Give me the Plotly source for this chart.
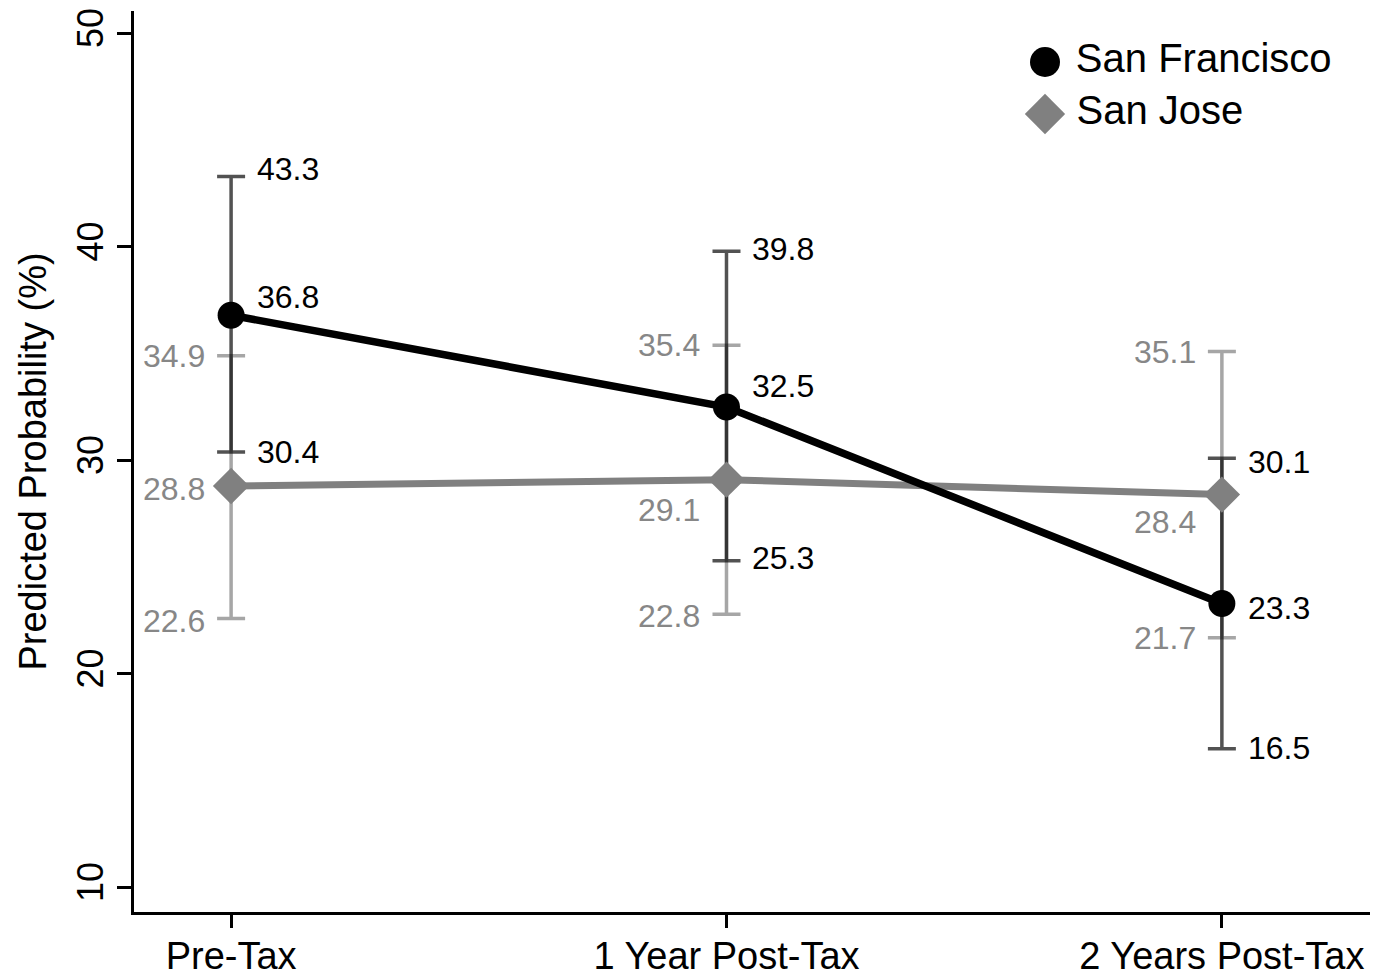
import plotly.graph_objects as go

# Periods on the x axis
periods = ["Pre-Tax", "1 Year Post-Tax", "2 Years Post-Tax"]

# Predicted probabilities (%) with 95% confidence bounds
sf_est = [36.8, 32.5, 23.3]
sf_low = [30.4, 25.3, 16.5]
sf_high = [43.3, 39.8, 30.1]

sj_est = [28.8, 29.1, 28.4]
sj_low = [22.6, 22.8, 21.7]
sj_high = [34.9, 35.4, 35.1]

# Vertical nudges (px) for value labels so they do not collide
sf_est_shift = [18, 21, -5]
sf_high_shift = [7, 2, -4]
sf_low_shift = [0, 3, 1]
sj_est_shift = [-3, -30, -27]
sj_high_shift = [0, 0, 0]
sj_low_shift = [-3, -2, 0]

FONT = "Liberation Sans, Arial, Helvetica, sans-serif"
SF_COLOR = "#000000"
SJ_COLOR = "#808080"
SJ_TEXT = "#878787"

x = list(range(len(periods)))

fig = go.Figure()

# Confidence intervals (San Jose underneath, San Francisco above)
fig.add_trace(go.Scatter(
    x=x, y=sj_est, mode="markers", showlegend=False, hoverinfo="skip",
    marker=dict(size=1, opacity=0),
    error_y=dict(type="data", symmetric=False,
                 array=[h - e for h, e in zip(sj_high, sj_est)],
                 arrayminus=[e - l for e, l in zip(sj_est, sj_low)],
                 color="rgba(128,128,128,0.7)", thickness=3.5, width=14),
))
fig.add_trace(go.Scatter(
    x=x, y=sf_est, mode="markers", showlegend=False, hoverinfo="skip",
    marker=dict(size=1, opacity=0),
    error_y=dict(type="data", symmetric=False,
                 array=[h - e for h, e in zip(sf_high, sf_est)],
                 arrayminus=[e - l for e, l in zip(sf_est, sf_low)],
                 color="rgba(0,0,0,0.68)", thickness=3.5, width=14),
))

# Point estimates
fig.add_trace(go.Scatter(
    x=x, y=sj_est, mode="lines+markers", name="San Jose", showlegend=False,
    line=dict(color=SJ_COLOR, width=7),
    marker=dict(symbol="diamond", size=28, color=SJ_COLOR, opacity=1,
                line=dict(width=0)),
))
fig.add_trace(go.Scatter(
    x=x, y=sf_est, mode="lines+markers", name="San Francisco", showlegend=False,
    line=dict(color=SF_COLOR, width=7.5),
    marker=dict(symbol="circle", size=27, color=SF_COLOR, opacity=1,
                line=dict(width=0)),
))

# Value labels
def add_labels(vals, shifts, color, side):
    for xi, v, s in zip(x, vals, shifts):
        fig.add_annotation(
            x=xi, y=v, text=f"{v:.1f}", showarrow=False,
            xanchor="left" if side == "right" else "right",
            xshift=24 if side == "right" else -24, yshift=s,
            font=dict(family=FONT, size=32, color=color),
        )

add_labels(sf_high, sf_high_shift, SF_COLOR, "right")
add_labels(sf_est, sf_est_shift, SF_COLOR, "right")
add_labels(sf_low, sf_low_shift, SF_COLOR, "right")
add_labels(sj_high, sj_high_shift, SJ_TEXT, "left")
add_labels(sj_est, sj_est_shift, SJ_TEXT, "left")
add_labels(sj_low, sj_low_shift, SJ_TEXT, "left")

# Legend key drawn on an overlay axis measured in pixels
fig.add_trace(go.Scatter(
    x=[1045, 1045], y=[62, 114], xaxis="x2", yaxis="y2",
    mode="markers+text", showlegend=False, hoverinfo="skip",
    text=[" San Francisco", " San Jose"], textposition="middle right",
    textfont=dict(family=FONT, size=40, color="#000000"),
    marker=dict(symbol=["circle", "diamond"], size=[30, 31], opacity=1,
                color=[SF_COLOR, SJ_COLOR], line=dict(width=0)),
))

fig.update_layout(
    width=1389, height=976,
    margin=dict(l=134, r=19, t=11, b=64),
    paper_bgcolor="white", plot_bgcolor="white",
    font=dict(family=FONT, color="#000000"),
    xaxis=dict(
        range=[-0.196, 2.299], tickmode="array", tickvals=x, ticktext=periods,
        showgrid=False, zeroline=False, showline=True, linecolor="black",
        linewidth=3, ticks="outside", ticklen=13, tickwidth=2.5,
        tickcolor="black", tickfont=dict(family=FONT, size=38),
        ticklabelstandoff=-5, automargin=False,
    ),
    yaxis=dict(
        range=[8.85, 51.05], tickvals=[10, 20, 30, 40, 50],
        showgrid=False, zeroline=False, showline=True, linecolor="black",
        linewidth=3, ticks="outside", ticklen=14, tickwidth=2.5,
        tickcolor="black", tickangle=-90, tickfont=dict(family=FONT, size=36),
        title=dict(text="Predicted Probability (%)",
                   font=dict(family=FONT, size=38), standoff=12),
        automargin=False,
    ),
    xaxis2=dict(range=[134, 1370], overlaying="x", visible=False,
                fixedrange=True),
    yaxis2=dict(range=[912, 11], overlaying="y", visible=False,
                fixedrange=True),
)

fig.write_html("out.html")
